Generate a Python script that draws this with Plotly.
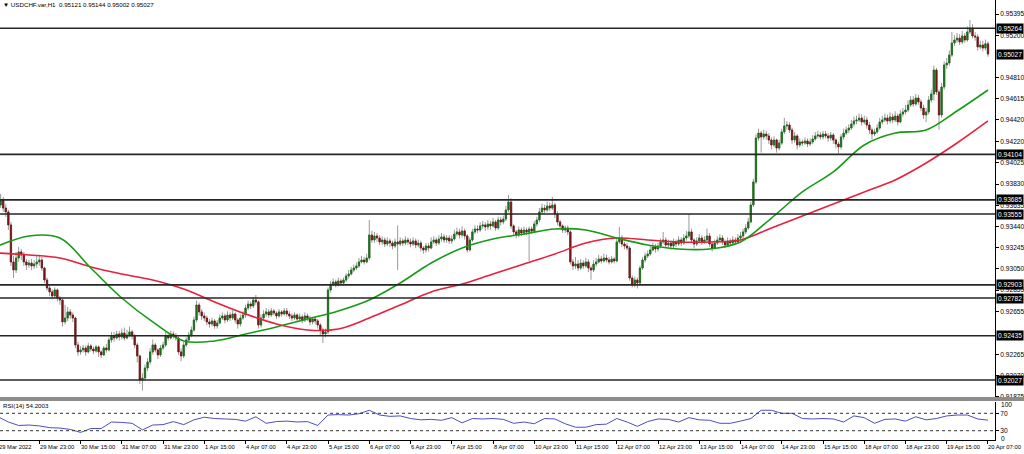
import plotly.graph_objects as go

# ---------------- data (prices in points, 1 point = 0.00001) ----------------
POINT = 1e-5
first_open_pts = 93660
close_pts = [
    93638, 93684, 93610, 93574, 93454, 93114, 93040, 93150, 93206, 93178, 93114, 93086, 93104, 93077, 93095, 93114,
    93132, 93058, 92948, 92874, 92838, 92801, 92856, 92782, 92764, 92562, 92598, 92654, 92626, 92598, 92350, 92286,
    92304, 92322, 92286, 92341, 92313, 92295, 92332, 92286, 92258, 92322, 92304, 92396, 92433, 92414, 92451, 92424,
    92460, 92414, 92442, 92470, 92433, 92350, 92249, 92028, 92046, 92138, 92194, 92286, 92350, 92304, 92258, 92322,
    92350, 92433, 92414, 92451, 92433, 92414, 92286, 92249, 92350, 92396, 92442, 92488, 92580, 92718, 92654, 92617,
    92598, 92562, 92543, 92571, 92525, 92552, 92598, 92617, 92580, 92626, 92598, 92635, 92580, 92543, 92598, 92626,
    92690, 92727, 92709, 92764, 92746, 92534, 92598, 92635, 92654, 92626, 92663, 92644, 92617, 92654, 92635, 92663,
    92635, 92617, 92598, 92626, 92589, 92608, 92580, 92617, 92598, 92562, 92589, 92571, 92534, 92488, 92451, 92470,
    92856, 92911, 92930, 92902, 92939, 92920, 92948, 92985, 93003, 93040, 93058, 93077, 93114, 93132, 93114, 93150,
    93362, 93316, 93353, 93334, 93298, 93316, 93279, 93307, 93288, 93261, 93298, 93279, 93307, 93288, 93316, 93298,
    93279, 93307, 93270, 93288, 93242, 93224, 93261, 93242, 93298, 93316, 93288, 93325, 93344, 93316, 93334, 93307,
    93325, 93371, 93390, 93362, 93399, 93353, 93224, 93316, 93390, 93417, 93408, 93445, 93454, 93436, 93463, 93445,
    93482, 93426, 93500, 93482, 93509, 93592, 93666, 93445, 93390, 93362, 93408, 93380, 93408, 93390, 93417, 93399,
    93463, 93500, 93574, 93610, 93592, 93629, 93610, 93638, 93555, 93482, 93445, 93408, 93426, 93390, 93114, 93077,
    93095, 93058, 93104, 93077, 93114, 93058, 93040, 93095, 93114, 93141, 93123, 93150, 93132, 93114, 93141, 93123,
    93298, 93334, 93279, 93261, 93242, 92966, 92911, 92948, 92920, 93058, 93132, 93169, 93187, 93224, 93252, 93233,
    93261, 93298, 93316, 93270, 93288, 93261, 93298, 93279, 93316, 93288, 93334, 93353, 93390, 93316, 93279, 93307,
    93334, 93298, 93316, 93353, 93279, 93242, 93288, 93316, 93334, 93298, 93270, 93307, 93288, 93316, 93298, 93334,
    93353, 93390, 93426, 93482, 93638, 93850, 94254, 94300, 94264, 94291, 94273, 94236, 94190, 94236, 94162, 94208,
    94310, 94365, 94374, 94328, 94236, 94273, 94190, 94218, 94208, 94227, 94199, 94218, 94245, 94273, 94282, 94264,
    94291, 94273, 94254, 94282, 94236, 94199, 94172, 94264, 94300, 94328, 94346, 94383, 94411, 94420, 94438, 94402,
    94420, 94374, 94328, 94291, 94310, 94346, 94402, 94420, 94438, 94411, 94448, 94420, 94457, 94402, 94475, 94494,
    94512, 94558, 94604, 94567, 94622, 94586, 94530, 94466, 94494, 94604, 94659, 94880, 94678, 94466, 94724, 94926,
    94944, 95018, 95128, 95156, 95174, 95138, 95193, 95156, 95230, 95266, 95193, 95184, 95092, 95110, 95082, 95121, 95027,
]
high_pts = [
    93721, 93739, 93712, 93647, 93592, 93482, 93169, 93206, 93252, 93233, 93206, 93141, 93132, 93141, 93132, 93169,
    93180, 93160, 93070, 92970, 92900, 92860, 92880, 92870, 92800, 92780, 92720, 92700, 92680, 92650, 92610, 92380,
    92340, 92350, 92345, 92370, 92360, 92335, 92350, 92345, 92300, 92340, 92360, 92420, 92470, 92470, 92480, 92480,
    92500, 92510, 92490, 92520, 92490, 92450, 92370, 92260, 92090, 92170, 92230, 92320, 92400, 92370, 92320, 92350,
    92380, 92470, 92470, 92480, 92475, 92460, 92430, 92320, 92380, 92420, 92470, 92520, 92610, 92760, 92740, 92680,
    92650, 92620, 92590, 92600, 92590, 92580, 92630, 92650, 92640, 92660, 92650, 92670, 92650, 92600, 92630, 92660,
    92720, 92760, 92750, 92790, 92810, 92760, 92630, 92670, 92690, 92680, 92690, 92680, 92660, 92680, 92670, 92690,
    92690, 92660, 92640, 92650, 92640, 92640, 92630, 92650, 92640, 92620, 92610, 92610, 92590, 92550, 92510, 92500,
    92880, 92940, 92960, 92950, 92970, 92960, 92970, 93010, 93040, 93070, 93090, 93110, 93150, 93170, 93160, 93190,
    93500, 93400, 93390, 93380, 93360, 93350, 93340, 93340, 93330, 93310, 93330, 93450, 93340, 93330, 93350, 93340,
    93330, 93340, 93330, 93320, 93310, 93260, 93290, 93290, 93340, 93350, 93340, 93360, 93380, 93370, 93360, 93360,
    93360, 93410, 93430, 93420, 93440, 93420, 93370, 93340, 93420, 93450, 93450, 93480, 93490, 93480, 93500, 93490,
    93520, 93500, 93530, 93530, 93540, 93630, 93730, 93700, 93460, 93410, 93440, 93430, 93440, 93430, 93440, 93440,
    93490, 93530, 93610, 93650, 93640, 93670, 93660, 93712, 93660, 93580, 93500, 93460, 93450, 93450, 93410, 93140,
    93160, 93130, 93140, 93130, 93150, 93140, 93080, 93130, 93150, 93180, 93170, 93190, 93180, 93160, 93170, 93160,
    93330, 93436, 93360, 93300, 93290, 93260, 92990, 92980, 92970, 93080, 93160, 93200, 93220, 93260, 93290, 93280,
    93290, 93330, 93390, 93340, 93320, 93310, 93330, 93320, 93350, 93340, 93370, 93400, 93555, 93420, 93330, 93340,
    93370, 93360, 93350, 93420, 93380, 93300, 93320, 93350, 93370, 93360, 93320, 93340, 93330, 93350, 93340, 93370,
    93390, 93420, 93460, 93520, 93670, 93880, 94290, 94340, 94320, 94330, 94320, 94300, 94260, 94270, 94250, 94240,
    94340, 94440, 94410, 94400, 94350, 94310, 94290, 94250, 94240, 94260, 94250, 94250, 94280, 94310, 94320, 94310,
    94320, 94320, 94300, 94310, 94300, 94250, 94220, 94290, 94340, 94360, 94380, 94420, 94450, 94460, 94480, 94470,
    94460, 94450, 94400, 94350, 94340, 94380, 94440, 94460, 94480, 94470, 94490, 94480, 94500, 94480, 94510, 94530,
    94560, 94600, 94640, 94640, 94660, 94650, 94610, 94560, 94530, 94640, 94700, 94920, 94900, 94700, 94760, 94960,
    94990, 95060, 95230, 95200, 95220, 95210, 95240, 95220, 95280, 95340, 95300, 95230, 95210, 95150, 95150, 95160, 95144,
]
low_pts = [
    93610, 93610, 93574, 93528, 93408, 93077, 92966, 93012, 93114, 93132, 93077, 93040, 93058, 93040, 93049, 93058,
    93080, 93030, 92920, 92850, 92800, 92770, 92780, 92750, 92720, 92520, 92540, 92570, 92590, 92560, 92320, 92250,
    92260, 92280, 92250, 92270, 92290, 92265, 92280, 92240, 92230, 92250, 92280, 92290, 92370, 92380, 92400, 92390,
    92400, 92390, 92400, 92420, 92400, 92320, 92190, 91990, 91930, 92020, 92110, 92170, 92260, 92280, 92220, 92240,
    92300, 92330, 92390, 92400, 92410, 92390, 92260, 92200, 92230, 92330, 92380, 92420, 92470, 92560, 92620, 92580,
    92570, 92530, 92510, 92520, 92500, 92500, 92540, 92580, 92550, 92560, 92570, 92580, 92550, 92500, 92520, 92580,
    92600, 92670, 92680, 92690, 92720, 92500, 92510, 92580, 92610, 92600, 92610, 92620, 92590, 92600, 92610, 92620,
    92610, 92590, 92570, 92580, 92560, 92570, 92550, 92560, 92570, 92530, 92540, 92540, 92500, 92440, 92368, 92420,
    92450, 92830, 92890, 92880, 92890, 92900, 92900, 92930, 92960, 92990, 93020, 93040, 93060, 93100, 93090, 93100,
    93130, 93290, 93290, 93300, 93270, 93270, 93250, 93260, 93250, 93230, 93240, 93040, 93260, 93260, 93270, 93270,
    93250, 93260, 93240, 93250, 93210, 93190, 93200, 93210, 93230, 93280, 93260, 93270, 93300, 93290, 93290, 93280,
    93280, 93310, 93350, 93330, 93340, 93320, 93200, 93210, 93300, 93370, 93380, 93390, 93420, 93400, 93410, 93410,
    93430, 93400, 93410, 93450, 93460, 93490, 93570, 93420, 93360, 93330, 93340, 93350, 93360, 93360, 93120, 93370,
    93380, 93440, 93480, 93550, 93560, 93570, 93580, 93590, 93520, 93450, 93420, 93380, 93380, 93360, 93090, 93040,
    93050, 93030, 93040, 93050, 93060, 93020, 92950, 93020, 93070, 93100, 93100, 93110, 93110, 93090, 93100, 93100,
    93110, 93280, 93250, 93230, 93220, 92940, 92880, 92880, 92870, 92900, 93040, 93110, 93150, 93170, 93210, 93200,
    93210, 93240, 93280, 93240, 93250, 93230, 93240, 93250, 93260, 93260, 93270, 93310, 93330, 93290, 93240, 93260,
    93290, 93270, 93280, 93300, 93250, 93210, 93230, 93270, 93300, 93270, 93240, 93250, 93260, 93270, 93270, 93280,
    93310, 93330, 93370, 93410, 93470, 93620, 93830, 94230, 94120, 94240, 94240, 94200, 94150, 94170, 94120, 94140,
    94190, 94290, 94330, 94300, 94200, 94210, 94150, 94170, 94180, 94190, 94170, 94180, 94200, 94230, 94250, 94240,
    94240, 94250, 94220, 94230, 94200, 94160, 94110, 94150, 94240, 94280, 94300, 94330, 94360, 94380, 94400, 94370,
    94380, 94340, 94290, 94240, 94270, 94290, 94330, 94380, 94400, 94380, 94390, 94390, 94400, 94370, 94390, 94450,
    94470, 94490, 94540, 94540, 94550, 94560, 94500, 94430, 94400, 94470, 94580, 94600, 94650, 94330, 94440, 94700,
    94890, 94920, 95000, 95100, 95130, 95110, 95120, 95130, 95140, 95210, 95170, 95150, 95060, 95070, 95050, 95060, 95002,
]
assert len(close_pts) == len(high_pts) == len(low_pts) == 385, (len(close_pts), len(high_pts), len(low_pts))

# moving averages read every 12 bars, RSI(14) read every 4 bars
ma_bars = list(range(0, 385, 12))
ma_green_pts = [93261, 93353, 93334, 93058, 92782, 92562, 92387, 92387, 92451, 92516, 92589, 92663, 92764,
                92920, 93104, 93242, 93325, 93371, 93417, 93408, 93334, 93270, 93233, 93233, 93298, 93518,
                93758, 93942, 94190, 94300, 94328, 94503, 94696]
ma_red_pts = [93196, 93178, 93150, 93068, 93003, 92948, 92865, 92746, 92635, 92543, 92488, 92497, 92598,
              92718, 92838, 92911, 93003, 93095, 93187, 93288, 93334, 93316, 93298, 93298, 93316, 93426,
              93537, 93647, 93758, 93868, 94024, 94208, 94411]
rsi_bars = list(range(0, 385, 4))
rsi_vals = [62, 50, 42, 43, 41, 37, 36, 33, 26, 35,
            35, 50, 49, 47, 32, 43, 44, 51, 44, 55,
            61, 58, 57, 56, 52, 62, 47, 51, 52, 50,
            51, 42, 66, 67, 66, 69, 77, 66, 63, 64,
            58, 55, 56, 54, 60, 48, 58, 57, 58, 56,
            47, 50, 46, 58, 57, 46, 38, 38, 44, 45,
            58, 50, 40, 51, 57, 56, 50, 60, 55, 54,
            47, 47, 52, 58, 77, 77, 70, 70, 58, 57,
            58, 57, 50, 64, 60, 47, 56, 57, 52, 62,
            55, 58, 64, 66, 66, 57, 54.2]

level_labels = ["0.95264", "0.94104", "0.93685", "0.93555", "0.92903", "0.92782", "0.92435", "0.92027"]
bid_label = "0.95027"
# scale labels visible on the price axis (two more sit hidden under the black boxes)
price_tick_labels = ["0.95395", "0.95200", "0.94810", "0.94615", "0.94420", "0.94220",
                     "0.94025", "0.93830", "0.93635", "0.93440", "0.93245", "0.93050", "0.92855",
                     "0.92655", "0.92265", "0.92070", "0.91875"]
time_labels = ["29 Mar 2022", "29 Mar 23:00", "30 Mar 15:00", "31 Mar 07:00", "31 Mar 23:00",
               "1 Apr 15:00", "4 Apr 07:00", "4 Apr 23:00", "5 Apr 15:00", "6 Apr 07:00",
               "6 Apr 23:00", "7 Apr 15:00", "8 Apr 07:00", "10 Apr 23:00", "11 Apr 15:00",
               "12 Apr 07:00", "12 Apr 23:00", "13 Apr 15:00", "14 Apr 07:00", "14 Apr 23:00",
               "15 Apr 15:00", "18 Apr 07:00", "18 Apr 23:00", "19 Apr 15:00", "20 Apr 07:00"]
time_label_bars = list(range(0, 385, 16))
rsi_levels = [70, 30]
title_text = "\u25BC USDCHF.var,H1  0.95121 0.95144 0.95002 0.95027"
rsi_title = "RSI(14) 54.2003"

# ---------------- derived series ----------------
closes = [v * POINT for v in close_pts]
highs = [v * POINT for v in high_pts]
lows = [v * POINT for v in low_pts]
opens = [first_open_pts * POINT] + closes[:-1]
bars = list(range(len(closes)))
body_top = [max(o, c) for o, c in zip(opens, closes)]
body_bot = [min(o, c) for o, c in zip(opens, closes)]
ma_green = [v * POINT for v in ma_green_pts]
ma_red = [v * POINT for v in ma_red_pts]

# ---------------- layout geometry ----------------
W, H = 1024, 454
ML, MR, MT, MB = 0, 29, 0, 14
PH = H - MT - MB  # 440
PW = W - ML - MR  # 995


def py(pix):  # pixel row -> paper y
    return (PH - pix) / PH


x_range = [0.756, 386.72]
PX_PER_BAR = PW / (x_range[1] - x_range[0])

FONT = "Liberation Sans"
FS = 6.6
FS_X = 5.8
WICK = "#9a9a9a"
BULL = "#1c6e1c"
BEAR = "#761616"

fig = go.Figure()
# wicks (grey)
fig.add_trace(go.Candlestick(
    x=bars, open=opens, high=highs, low=lows, close=closes,
    increasing=dict(line=dict(color=WICK, width=1), fillcolor=WICK),
    decreasing=dict(line=dict(color=WICK, width=1), fillcolor=WICK),
    whiskerwidth=0, xaxis="x", yaxis="y", showlegend=False, hoverinfo="skip"))
# coloured bodies
fig.add_trace(go.Candlestick(
    x=bars, open=opens, high=body_top, low=body_bot, close=closes,
    increasing=dict(line=dict(color=BULL, width=0.8), fillcolor=BULL),
    decreasing=dict(line=dict(color=BEAR, width=0.8), fillcolor=BEAR),
    whiskerwidth=0, xaxis="x", yaxis="y", showlegend=False, hoverinfo="skip"))
fig.add_trace(go.Scatter(x=ma_bars, y=ma_red, mode="lines",
                         line=dict(color="#e8203c", width=1.6, shape="spline", smoothing=1.0),
                         xaxis="x", yaxis="y", showlegend=False, hoverinfo="skip"))
fig.add_trace(go.Scatter(x=ma_bars, y=ma_green, mode="lines",
                         line=dict(color="#179a17", width=1.6, shape="spline", smoothing=1.0),
                         xaxis="x", yaxis="y", showlegend=False, hoverinfo="skip"))
fig.add_trace(go.Scatter(x=rsi_bars, y=rsi_vals, mode="lines",
                         line=dict(color="#4d4dc4", width=1),
                         xaxis="x2", yaxis="y2", showlegend=False, hoverinfo="skip"))

shapes = []
for lab in level_labels:
    v = float(lab)
    shapes.append(dict(type="line", xref="paper", x0=0, x1=1, yref="y", y0=v, y1=v,
                       line=dict(color="#262626", width=1.6)))
for lv in rsi_levels:
    shapes.append(dict(type="line", xref="paper", x0=0, x1=1, yref="y2", y0=lv, y1=lv,
                       line=dict(color="#333333", width=1, dash="dot")))
# panel separator
shapes.append(dict(type="rect", xref="paper", x0=0, x1=W / PW, yref="paper",
                   y0=py(401), y1=py(397), fillcolor="#8c8c8c", line=dict(width=0)))

annotations = []
for lab in level_labels + [bid_label]:
    annotations.append(dict(text=lab, xref="paper", x=1, xanchor="left", xshift=1,
                            yref="y", y=float(lab), yanchor="middle", showarrow=False,
                            bgcolor="black", borderpad=1,
                            font=dict(family=FONT, size=FS, color="white")))
for b, lab in zip(time_label_bars, time_labels):
    xa = max(b, x_range[0])  # keep the anchor inside the axis so the label is drawn
    annotations.append(dict(text=lab, xref="x2", x=xa, xanchor="left",
                            xshift=-0.5 + (b - xa) * PX_PER_BAR, borderpad=0,
                            yref="paper", y=0, yshift=-7, yanchor="middle", showarrow=False,
                            font=dict(family=FONT, size=FS_X, color="black")))
annotations.append(dict(text=title_text, xref="paper", x=0, xanchor="left", xshift=1,
                        yref="paper", y=py(4.5), yanchor="middle", showarrow=False,
                        font=dict(family=FONT, size=6.2, color="black")))
annotations.append(dict(text=rsi_title, xref="paper", x=0, xanchor="left", xshift=1,
                        yref="paper", y=py(405.5), yanchor="middle", showarrow=False,
                        font=dict(family=FONT, size=6.2, color="black")))
for txt, pix in (("100", 404), ("0", 438)):
    annotations.append(dict(text=txt, xref="paper", x=1, xanchor="left", xshift=4,
                            yref="paper", y=py(pix), yanchor="middle", showarrow=False,
                            font=dict(family=FONT, size=FS, color="black")))

axis_common = dict(showgrid=False, zeroline=False, fixedrange=True)
fig.update_layout(
    width=W, height=H, margin=dict(l=ML, r=MR, t=MT, b=MB),
    paper_bgcolor="white", plot_bgcolor="white", showlegend=False,
    xaxis=dict(domain=[0, 1], range=x_range, anchor="y", showticklabels=False, ticks="",
               rangeslider=dict(visible=False), **axis_common),
    xaxis2=dict(domain=[0, 1], range=x_range, anchor="y2", matches="x", showticklabels=False,
                tickvals=time_label_bars, ticks="outside", ticklen=3, tickcolor="black",
                showline=True, linecolor="black", linewidth=1, **axis_common),
    yaxis=dict(domain=[py(398), 1], range=[0.91862, 0.95524], autorange=False, side="right",
               anchor="x", tickvals=[float(t) for t in price_tick_labels], ticktext=price_tick_labels,
               ticks="outside", ticklen=3, tickcolor="black", showline=True, linecolor="black",
               linewidth=1, tickfont=dict(family=FONT, size=FS, color="black"), **axis_common),
    yaxis2=dict(domain=[0, py(402)], range=[8.6, 96], autorange=False, side="right", anchor="x2",
                tickvals=[70, 30], ticktext=["70", "30"], ticks="outside", ticklen=3,
                tickcolor="black", showline=True, linecolor="black", linewidth=1,
                tickfont=dict(family=FONT, size=FS, color="black"), **axis_common),
    shapes=shapes, annotations=annotations, boxgap=0.3,
)

fig.write_html("out.html", config={"displayModeBar": False},
               post_script="document.body.style.margin='0';document.body.style.padding='0';")
